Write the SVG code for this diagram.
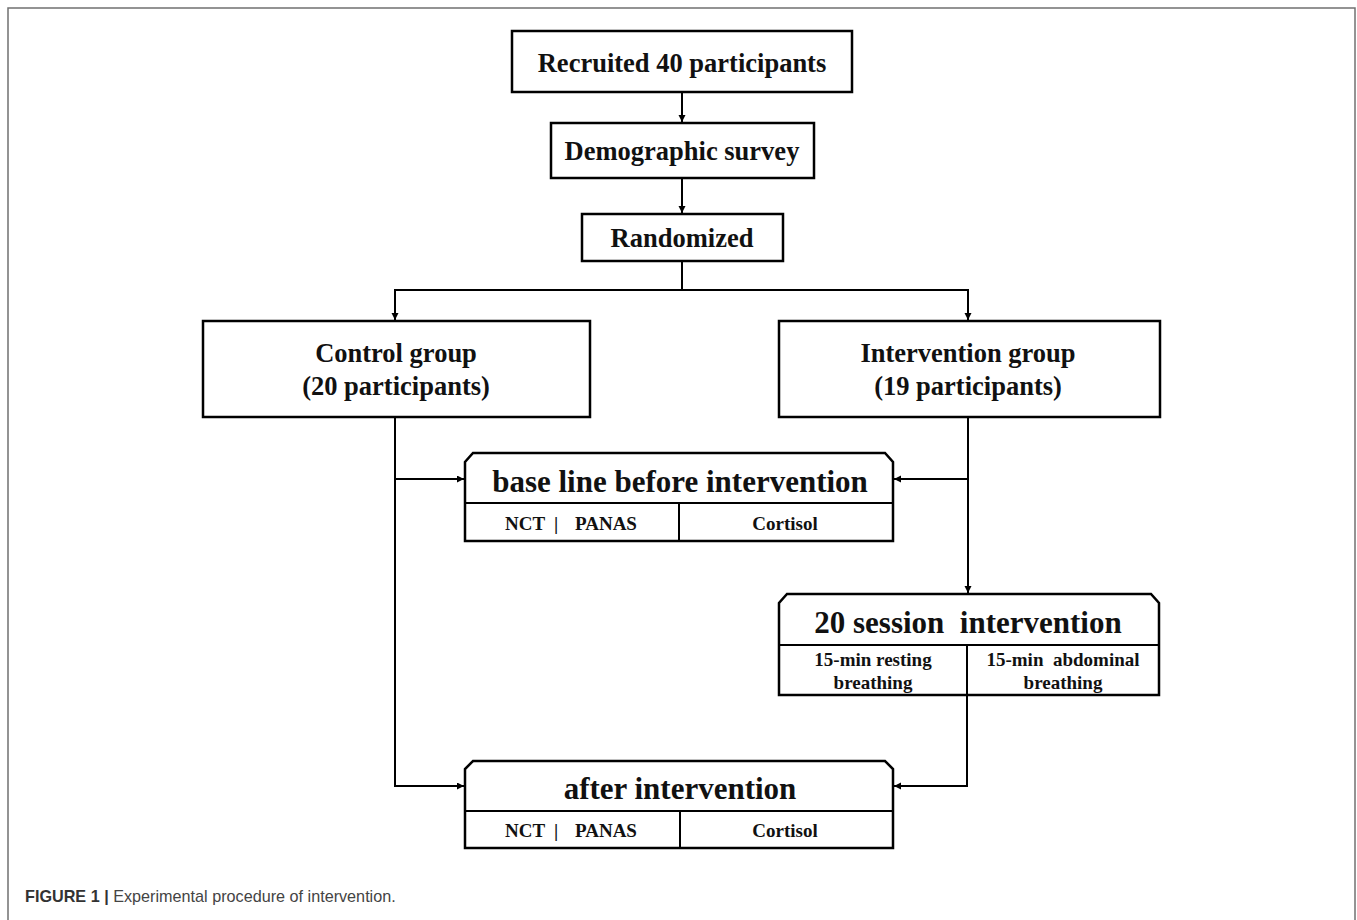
<svg xmlns="http://www.w3.org/2000/svg" width="1357" height="920" viewBox="0 0 1357 920">
<style>
.box{fill:#fff;stroke:#000;stroke-width:2.5}
.ln{fill:none;stroke:#000;stroke-width:2}
.t{font-family:"Liberation Serif","Times New Roman",serif;font-weight:bold;fill:#111;text-anchor:middle}
.big{font-size:26.5px}
.ttl{font-size:31px}
.sm{font-size:19px}
.cap{font-family:"Liberation Sans",Arial,sans-serif;font-size:16.2px;fill:#444}
</style>
<defs>
<marker id="ah" markerUnits="userSpaceOnUse" markerWidth="8" markerHeight="8" refX="7" refY="3.5" orient="auto">
<path d="M0,0 L7,3.5 L0,7 Z" fill="#000"/>
</marker>
</defs>
<rect x="0" y="0" width="1357" height="920" fill="#fff"/>
<rect x="8" y="8" width="1347" height="930" fill="none" stroke="#707070" stroke-width="1.5"/>

<g id="connectors">
<line class="ln" x1="682" y1="92" x2="682" y2="122" marker-end="url(#ah)"/>
<line class="ln" x1="682" y1="178" x2="682" y2="213" marker-end="url(#ah)"/>
<polyline class="ln" points="682,261 682,290"/>
<polyline class="ln" points="395,320 395,290 968,290 968,320"/>
<line class="ln" x1="395" y1="292" x2="395" y2="320" marker-end="url(#ah)"/>
<line class="ln" x1="968" y1="292" x2="968" y2="320" marker-end="url(#ah)"/>
<polyline class="ln" points="395,417 395,786 464,786" marker-end="url(#ah)"/>
<line class="ln" x1="395" y1="479" x2="464" y2="479" marker-end="url(#ah)"/>
<line class="ln" x1="968" y1="417" x2="968" y2="593" marker-end="url(#ah)"/>
<line class="ln" x1="968" y1="479" x2="894" y2="479" marker-end="url(#ah)"/>
<polyline class="ln" points="967,695 967,786 894,786" marker-end="url(#ah)"/>
</g>

<g id="recruited">
<rect class="box" x="512" y="31" width="340" height="61"/>
<text class="t big" x="682" y="72">Recruited 40 participants</text>
</g>
<g id="demographic">
<rect class="box" x="551" y="123" width="263" height="55"/>
<text class="t big" x="682" y="160">Demographic survey</text>
</g>
<g id="randomized">
<rect class="box" x="582" y="214" width="201" height="47"/>
<text class="t big" x="682" y="247">Randomized</text>
</g>
<g id="control">
<rect class="box" x="203" y="321" width="387" height="96"/>
<text class="t big" x="396" y="362">Control group</text>
<text class="t big" x="396" y="395">(20 participants)</text>
</g>
<g id="intervention">
<rect class="box" x="779" y="321" width="381" height="96"/>
<text class="t big" x="968" y="362">Intervention group</text>
<text class="t big" x="968" y="395">(19 participants)</text>
</g>
<g id="baseline">
<path class="box" d="M465,541 L465,462 L473,453 L885,453 L893,462 L893,541 Z"/>
<line class="ln" x1="465" y1="503" x2="893" y2="503"/>
<line class="ln" x1="679" y1="503" x2="679" y2="541"/>
<text class="t ttl" x="680" y="492">base line before intervention</text>
<text class="t sm" style="text-anchor:start"><tspan x="505" y="530">NCT</tspan><tspan x="554" y="530">|</tspan><tspan x="575" y="530">PANAS</tspan></text>
<text class="t sm" x="785" y="530">Cortisol</text>
</g>
<g id="session">
<path class="box" d="M779,695 L779,603 L787,594 L1151,594 L1159,603 L1159,695 Z"/>
<line class="ln" x1="779" y1="645" x2="1159" y2="645"/>
<line class="ln" x1="967" y1="645" x2="967" y2="695"/>
<text class="t ttl" x="968" y="633" xml:space="preserve">20 session  intervention</text>
<text class="t sm" x="873" y="666">15-min resting</text>
<text class="t sm" x="873" y="689">breathing</text>
<text class="t sm" x="1063" y="666" xml:space="preserve">15-min  abdominal</text>
<text class="t sm" x="1063" y="689">breathing</text>
</g>
<g id="after">
<path class="box" d="M465,848 L465,769 L473,761 L885,761 L893,769 L893,848 Z"/>
<line class="ln" x1="465" y1="811" x2="893" y2="811"/>
<line class="ln" x1="680" y1="811" x2="680" y2="848"/>
<text class="t ttl" x="680" y="799">after intervention</text>
<text class="t sm" style="text-anchor:start"><tspan x="505" y="837">NCT</tspan><tspan x="554" y="837">|</tspan><tspan x="575" y="837">PANAS</tspan></text>
<text class="t sm" x="785" y="837">Cortisol</text>
</g>
<text class="cap" x="25" y="902"><tspan font-weight="bold" fill="#333">FIGURE 1 |</tspan> Experimental procedure of intervention.</text>
</svg>
